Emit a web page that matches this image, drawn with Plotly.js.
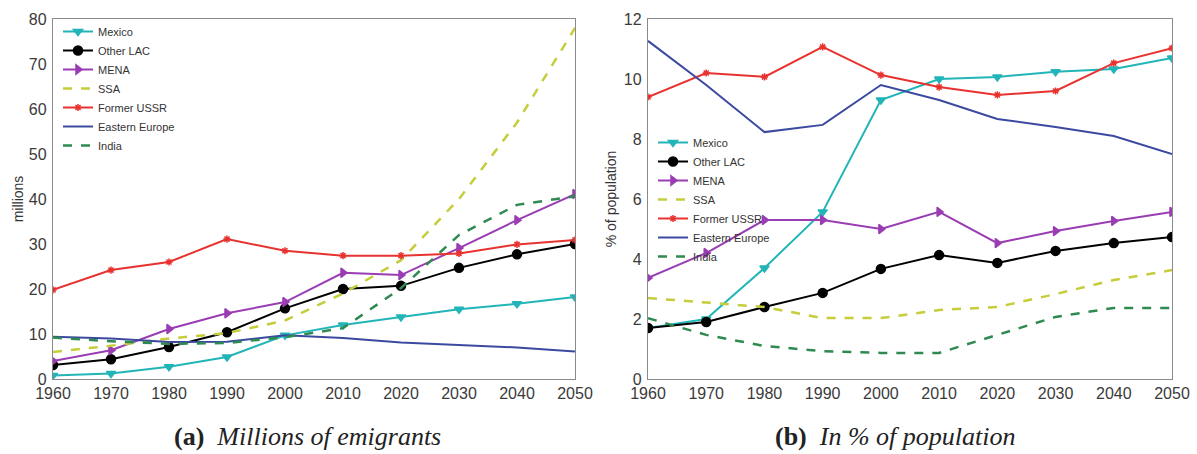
<!DOCTYPE html>
<html>
<head>
<meta charset="utf-8">
<script src="https://cdn.plot.ly/plotly-3.0.1.min.js"></script>
<style>html,body{margin:0;padding:0;background:#fff;}#chart{width:1197px;height:454px;}</style>
</head>
<body>
<div id="chart"></div>
<script>
const years = [1960, 1970, 1980, 1990, 2000, 2010, 2020, 2030, 2040, 2050];
const seriesNames = ["Mexico", "Other LAC", "MENA", "SSA", "Former USSR", "Eastern Europe", "India"];

// (a) Millions of emigrants
const mexicoM   = [0.8, 1.2, 2.7, 4.9, 9.7, 12.0, 13.8, 15.5, 16.7, 18.2];
const otherLacM = [3.1, 4.4, 7.1, 10.4, 15.7, 20.0, 20.7, 24.7, 27.7, 30.0];
const menaM     = [4.0, 6.4, 11.1, 14.6, 17.1, 23.6, 23.1, 29.1, 35.3, 41.1];
const ssaM      = [6.0, 7.4, 9.0, 10.2, 13.0, 19.0, 26.4, 40.0, 57.0, 78.0];
const ussrM     = [19.8, 24.2, 26.0, 31.1, 28.5, 27.4, 27.4, 27.9, 29.9, 30.9];
const eastEuM   = [9.4, 9.0, 8.2, 8.3, 9.7, 9.1, 8.1, 7.6, 7.0, 6.1];
const indiaM    = [9.2, 8.4, 7.8, 8.0, 9.3, 11.3, 20.2, 32.0, 38.7, 40.6];

// (b) In % of population
const mexicoP   = [1.7, 2.0, 3.7, 5.57, 9.3, 10.0, 10.07, 10.24, 10.33, 10.7];
const otherLacP = [1.7, 1.9, 2.4, 2.87, 3.67, 4.13, 3.87, 4.27, 4.53, 4.73];
const menaP     = [3.37, 4.2, 5.3, 5.3, 5.0, 5.57, 4.53, 4.93, 5.27, 5.57];
const ssaP      = [2.7, 2.55, 2.4, 2.03, 2.03, 2.3, 2.4, 2.83, 3.3, 3.63];
const ussrP     = [9.4, 10.2, 10.07, 11.07, 10.13, 9.73, 9.47, 9.6, 10.53, 11.03];
const eastEuP   = [11.27, 9.8, 8.23, 8.47, 9.8, 9.3, 8.67, 8.4, 8.1, 7.5];
const indiaP    = [2.03, 1.47, 1.1, 0.93, 0.87, 0.87, 1.47, 2.07, 2.37, 2.37];

const xTicks = [1960, 1970, 1980, 1990, 2000, 2010, 2020, 2030, 2040, 2050];
const yTicksA = [0, 10, 20, 30, 40, 50, 60, 70, 80];
const yTicksB = [0, 2, 4, 6, 8, 10, 12];

const styles = [
  {color: '#22b5b8', dash: 'solid', symbol: 'triangle-down', size: 8, mode: 'lines+markers'},
  {color: '#000000', dash: 'solid', symbol: 'circle', size: 9, mode: 'lines+markers'},
  {color: '#9a3db3', dash: 'solid', symbol: 'triangle-right', size: 8, mode: 'lines+markers'},
  {color: '#c5cd3a', dash: 'dash', symbol: 'circle', size: 0, mode: 'lines'},
  {color: '#e8322f', dash: 'solid', symbol: 'asterisk-open', size: 6, mode: 'lines+markers'},
  {color: '#3b4aa0', dash: 'solid', symbol: 'circle', size: 0, mode: 'lines'},
  {color: '#2e8a50', dash: 'dash', symbol: 'circle', size: 0, mode: 'lines'}
];

const dataA = [mexicoM, otherLacM, menaM, ssaM, ussrM, eastEuM, indiaM];
const dataB = [mexicoP, otherLacP, menaP, ssaP, ussrP, eastEuP, indiaP];

const traces = [];
function addTraces(dataSet, xa, ya, legendId) {
  dataSet.forEach((vals, i) => {
    const s = styles[i];
    const t = {
      x: years, y: vals, name: seriesNames[i], type: 'scatter', mode: s.mode,
      xaxis: xa, yaxis: ya, legend: legendId,
      line: {color: s.color, width: s.dash === 'dash' ? 2.5 : 2, dash: s.dash},
      hoverinfo: 'skip'
    };
    if (s.mode.indexOf('markers') >= 0) {
      t.marker = {symbol: s.symbol, size: s.size, color: s.color, line: {color: s.color, width: 1.5}};
    }
    traces.push(t);
  });
}
addTraces(dataA, 'x', 'y', 'legend');
addTraces(dataB, 'x2', 'y2', 'legend2');

const W = 1197, H = 454;
const tickFont = {family: 'Liberation Sans, Arial, sans-serif', size: 16, color: '#3a3a3a'};
const axisCommon = {
  showline: true, mirror: true, linecolor: '#8a8a8a', linewidth: 1.2,
  showgrid: false, zeroline: false, ticks: '', tickfont: tickFont
};
const legendCommon = {
  font: {family: 'Liberation Sans, Arial, sans-serif', size: 11, color: '#333'},
  bgcolor: 'rgba(0,0,0,0)', borderwidth: 0, tracegroupgap: 0,
  xanchor: 'left', yanchor: 'top', itemwidth: 30
};
const titleFont = {family: 'Liberation Sans, Arial, sans-serif', size: 14, color: '#333'};

const layout = {
  width: W, height: H,
  margin: {l: 0, r: 0, t: 0, b: 0},
  paper_bgcolor: '#fff', plot_bgcolor: '#fff',
  showlegend: true,
  xaxis: Object.assign({}, axisCommon, {domain: [53 / W, 575 / W], range: [1960, 2050], tickvals: xTicks, anchor: 'y'}),
  yaxis: Object.assign({}, axisCommon, {domain: [1 - 379 / H, 1 - 19 / H], range: [0, 80], tickvals: yTicksA, anchor: 'x',
    ticklabelstandoff: 2, title: {text: 'millions', standoff: 2, font: titleFont}}),
  xaxis2: Object.assign({}, axisCommon, {domain: [648 / W, 1172 / W], range: [1960, 2050], tickvals: xTicks, anchor: 'y2'}),
  yaxis2: Object.assign({}, axisCommon, {domain: [1 - 379 / H, 1 - 19 / H], range: [0, 12], tickvals: yTicksB, anchor: 'x2',
    ticklabelstandoff: 2, title: {text: '% of population', standoff: 4, font: titleFont}}),
  legend: Object.assign({}, legendCommon, {x: 58 / W, y: 1 - 17 / H}),
  legend2: Object.assign({}, legendCommon, {x: 653 / W, y: 1 - 128 / H}),
  annotations: [
    {xref: 'paper', yref: 'paper', x: 307 / W, y: 1 - 436 / H, xanchor: 'center', yanchor: 'middle', showarrow: false,
     text: '<b>(a)</b>&nbsp;&nbsp;<i>Millions of emigrants</i>', font: {family: 'Liberation Serif, DejaVu Serif, serif', size: 26, color: '#222'}},
    {xref: 'paper', yref: 'paper', x: 895 / W, y: 1 - 436 / H, xanchor: 'center', yanchor: 'middle', showarrow: false,
     text: '<b>(b)</b>&nbsp;&nbsp;<i>In % of population</i>', font: {family: 'Liberation Serif, DejaVu Serif, serif', size: 26, color: '#222'}}
  ]
};

Plotly.newPlot('chart', traces, layout, {displayModeBar: false, staticPlot: true});
</script>
</body>
</html>
